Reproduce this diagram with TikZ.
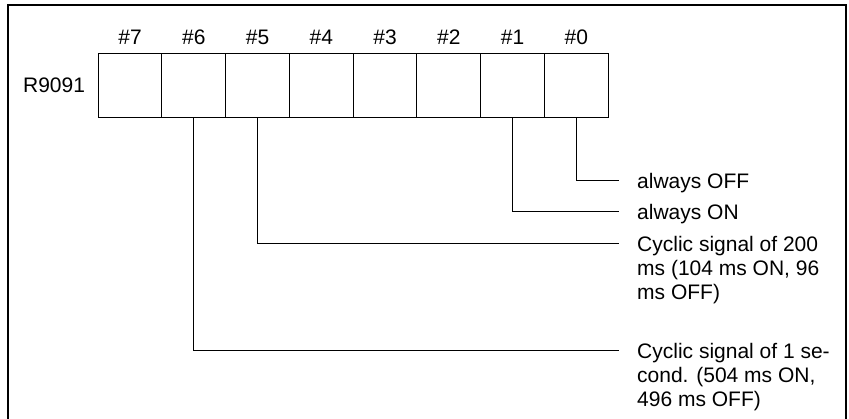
\documentclass[tikz,border=0pt]{standalone}
\usepackage{fontspec}
\setmainfont{Liberation Sans}
\usetikzlibrary{matrix,positioning}

\begin{document}
\begin{tikzpicture}[x=1pt, y=-1pt, every node/.style={font=\fontsize{21}{24}\selectfont},
	desc/.style={inner sep=0pt, align=left, anchor=north west}, link/.style={line width=1pt}]
	\useasboundingbox (0,0) rectangle (849,419);
	\draw[line width=1.6pt] (8,419) -- (8,5) -- (846,5) -- (846,419);
	\matrix (reg) [matrix of nodes, nodes in empty cells, anchor=north west, inner sep=0pt, nodes={minimum width=63.75pt, minimum height=64pt, inner sep=0pt, outer sep=0pt, anchor=center}, row 1/.style={nodes={minimum height=20pt}}, row 2/.style={nodes={draw, line width=1pt}}, column sep=-1pt, row sep=5.5pt] at (97.5,27) {
		\#7 & \#6 & \#5 & \#4 & \#3 & \#2 & \#1 & \#0 \\
		 & & & & & & & \\
	};
	\node[inner sep=0pt, left=13pt of reg-2-1] (regname) {R9091};
	\coordinate (e0) at (619,181);
	\coordinate (e1) at (619,212);
	\coordinate (e5) at (619,244);
	\coordinate (e6) at (619,351);
	\draw[link] (reg-2-8.south) |- (e0);
	\draw[link] (reg-2-7.south) |- (e1);
	\draw[link] (reg-2-3.south) |- (e5);
	\draw[link] (reg-2-2.south) |- (e6);
	\node[desc] (d0) at ([xshift=18pt, yshift=7.5pt]e0) {\rule{0pt}{0.716em}always OFF};
	\node[desc] (d1) at ([xshift=18pt, yshift=7.5pt]e1) {\rule{0pt}{0.716em}always ON};
	\node[desc] (d5) at ([xshift=18pt, yshift=7.5pt]e5) {\rule{0pt}{0.716em}Cyclic signal of 200\\ms (104 ms ON, 96\\ms OFF)};
	\node[desc] (d6) at ([xshift=18pt, yshift=7.5pt]e6) {\rule{0pt}{0.716em}Cyclic signal of 1 se-\\cond. (504 ms ON,\\496 ms OFF)};
\end{tikzpicture}
\end{document}
